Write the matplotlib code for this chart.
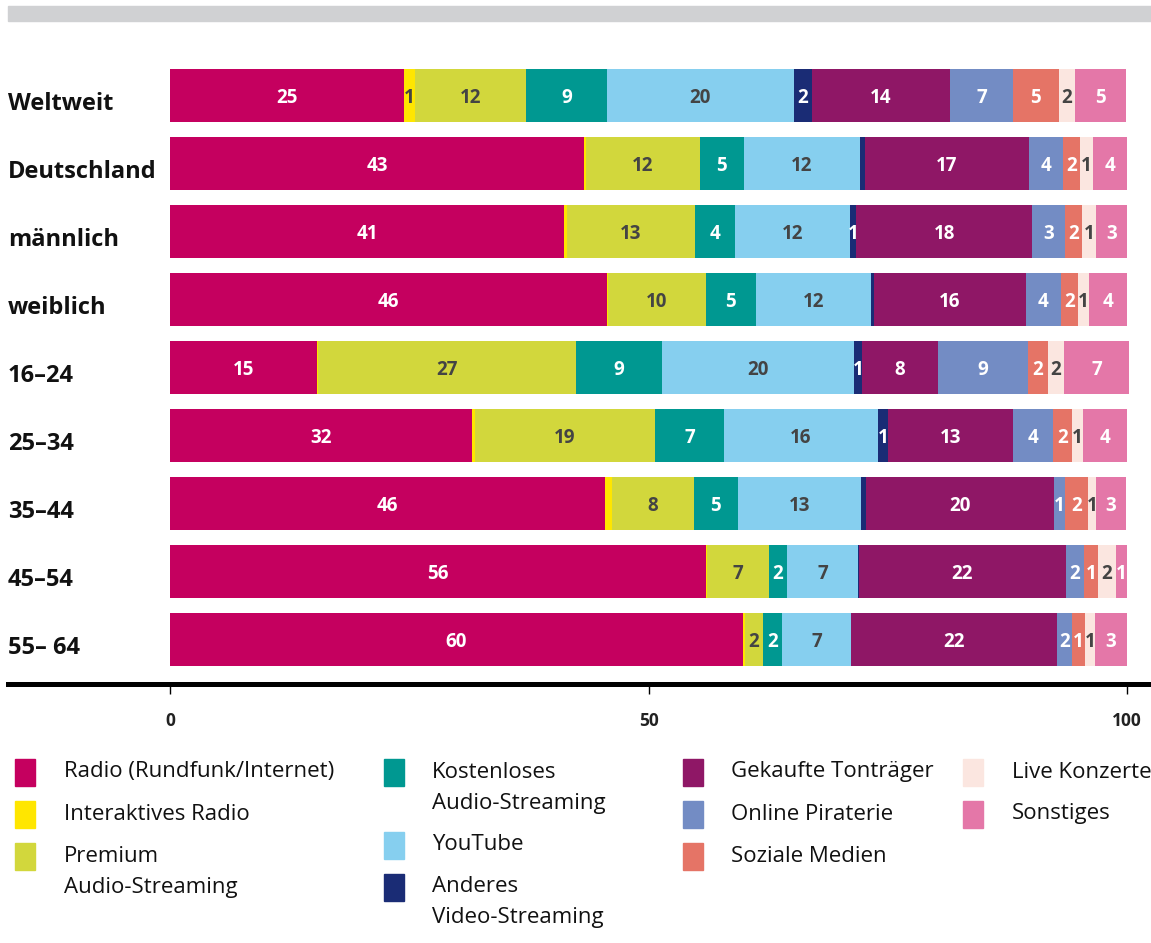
import matplotlib
matplotlib.use("Agg")
import matplotlib.pyplot as plt
from matplotlib.patches import Rectangle
import matplotlib.transforms as mtransforms
import numpy as np

# ---------------- data ----------------
categories = ["Weltweit", "Deutschland", "männlich", "weiblich",
              "16–24", "25–34", "35–44", "45–54", "55– 64"]

series_names = ["Radio (Rundfunk/Internet)", "Interaktives Radio",
                "Premium\nAudio-Streaming", "Kostenloses\nAudio-Streaming",
                "YouTube", "Anderes\nVideo-Streaming", "Gekaufte Tonträger",
                "Online Piraterie", "Soziale Medien", "Live Konzerte", "Sonstiges"]

radio      = [24.45, 43.26, 41.17, 45.66, 15.36, 31.56, 45.45, 56.01, 59.87]
interaktiv = [1.15, 0.21, 0.31, 0.10, 0.10, 0.31, 0.73, 0.10, 0.21]
premium    = [11.60, 11.91, 13.38, 10.24, 26.96, 18.81, 8.57, 6.48, 1.88]
kostenlos  = [8.46, 4.60, 4.18, 5.22, 8.99, 7.21, 4.60, 1.88, 1.99]
youtube    = [19.54, 12.12, 12.02, 12.02, 20.06, 16.09, 12.85, 7.42, 7.21]
anderes    = [1.88, 0.52, 0.63, 0.31, 0.84, 1.04, 0.52, 0.10, 0.00]
gekauft    = [14.42, 17.14, 18.39, 15.88, 7.94, 13.06, 19.64, 21.63, 21.53]
piraterie  = [6.58, 3.55, 3.45, 3.66, 9.40, 4.18, 1.15, 1.88, 1.57]
soziale    = [4.81, 1.78, 1.78, 1.78, 2.09, 1.99, 2.40, 1.46, 1.36]
live       = [1.67, 1.36, 1.46, 1.15, 1.67, 1.15, 0.84, 1.88, 1.04]
sonstige   = [5.33, 3.55, 3.24, 3.97, 6.79, 4.60, 3.13, 1.15, 3.34]

radio_lbl      = [25, 43, 41, 46, 15, 32, 46, 56, 60]
interaktiv_lbl = [1, None, None, None, None, None, None, None, None]
premium_lbl    = [12, 12, 13, 10, 27, 19, 8, 7, 2]
kostenlos_lbl  = [9, 5, 4, 5, 9, 7, 5, 2, 2]
youtube_lbl    = [20, 12, 12, 12, 20, 16, 13, 7, 7]
anderes_lbl    = [2, None, 1, None, 1, 1, None, None, None]
gekauft_lbl    = [14, 17, 18, 16, 8, 13, 20, 22, 22]
piraterie_lbl  = [7, 4, 3, 4, 9, 4, 1, 2, 2]
soziale_lbl    = [5, 2, 2, 2, 2, 2, 2, 1, 1]
live_lbl       = [2, 1, 1, 1, 2, 1, 1, 2, 1]
sonstige_lbl   = [5, 4, 3, 4, 7, 4, 3, 1, 3]

x_ticks = [0, 50, 100]

# ---------------- style ----------------
colors = ["#C5005F", "#FFE600", "#D2D73C", "#009891", "#86CFEF", "#1A2C75",
          "#8F1766", "#738CC4", "#E57466", "#FBE6E0", "#E477A8"]
label_colors = ["white", "#444444", "#444444", "white", "#444444", "white",
                "white", "white", "white", "#444444", "white"]

all_values = [radio, interaktiv, premium, kostenlos, youtube, anderes,
              gekauft, piraterie, soziale, live, sonstige]
all_labels = [radio_lbl, interaktiv_lbl, premium_lbl, kostenlos_lbl, youtube_lbl,
              anderes_lbl, gekauft_lbl, piraterie_lbl, soziale_lbl, live_lbl,
              sonstige_lbl]

FONT = "Open Sans"
plt.rcParams["font.family"] = [FONT, "DejaVu Sans"]

W, H = 1151, 943
fig = plt.figure(figsize=(W / 100, H / 100), dpi=100)

# grey band at the top
fig.patches.append(Rectangle((8 / W, 1 - 21 / H), (W - 8) / W, 15 / H,
                             transform=fig.transFigure, color="#D0D1D3", zorder=0))

ax_left_px, ax_right_px = 8, 1151
ax_top_px, ax_bottom_px = 40, 684
ax = fig.add_axes([ax_left_px / W, 1 - ax_bottom_px / H,
                   (ax_right_px - ax_left_px) / W, (ax_bottom_px - ax_top_px) / H])

px_per_unit = (1127 - 170) / 100.0
ax.set_xlim((ax_left_px - 170) / px_per_unit, (ax_right_px - 170) / px_per_unit)
row_pitch = 68.0
y0 = 95.5
ax.set_ylim(len(categories) - 1 + (ax_bottom_px - (y0 + row_pitch * (len(categories) - 1))) / row_pitch,
            (ax_top_px - y0) / row_pitch)

ypos = np.arange(len(categories))
left = np.zeros(len(categories))
for vals, lbls, col, lcol in zip(all_values, all_labels, colors, label_colors):
    vals = np.array(vals)
    ax.barh(ypos, vals, left=left, height=53 / 68, color=col, linewidth=0)
    for i, (v, l) in enumerate(zip(vals, lbls)):
        if l is not None:
            ax.text(left[i] + v / 2, ypos[i] + 0.04, str(l), ha="center", va="center",
                    color=lcol, fontsize=13.5, fontweight="bold", family=[FONT, "DejaVu Sans"])
    left += vals

# category labels at the left
trans = mtransforms.blended_transform_factory(ax.transAxes, ax.transData)
for i, c in enumerate(categories):
    ax.text(0, ypos[i] + 0.12, c, transform=trans, ha="left", va="center",
            fontsize=17, fontweight="bold", color="#111111")

for s in ["top", "right", "left"]:
    ax.spines[s].set_visible(False)
ax.spines["bottom"].set_linewidth(3.6)
ax.spines["bottom"].set_color("black")
ax.set_yticks([])
ax.set_xticks(x_ticks)
ax.set_xticklabels([str(t) for t in x_ticks])
ax.tick_params(axis="x", length=7, width=1, color="black", pad=13,
               labelsize=12.5, labelcolor="#222222")
for t in ax.get_xticklabels():
    t.set_fontweight("bold")

# ---------------- legend ----------------
col_marker_x = [15, 384, 683, 963]
col_text_x = [64, 432, 731, 1012]
legend_cols = [[0, 1, 2], [3, 4, 5], [6, 7, 8], [9, 10]]
line_h = 31
entry_gap = 42
for ci, idxs in enumerate(legend_cols):
    ycur = 772
    for si in idxs:
        name = series_names[si]
        nlines = name.count("\n") + 1
        fig.patches.append(Rectangle((col_marker_x[ci] / W, 1 - (ycur + 14) / H),
                                     20 / W, 27 / H, transform=fig.transFigure,
                                     color=colors[si]))
        for li, line in enumerate(name.split("\n")):
            fig.text(col_text_x[ci] / W, 1 - (ycur + li * line_h) / H, line,
                     ha="left", va="center", fontsize=16, color="#111111")
        ycur += entry_gap + line_h * (nlines - 1)

fig.savefig("out.png", dpi=100)
